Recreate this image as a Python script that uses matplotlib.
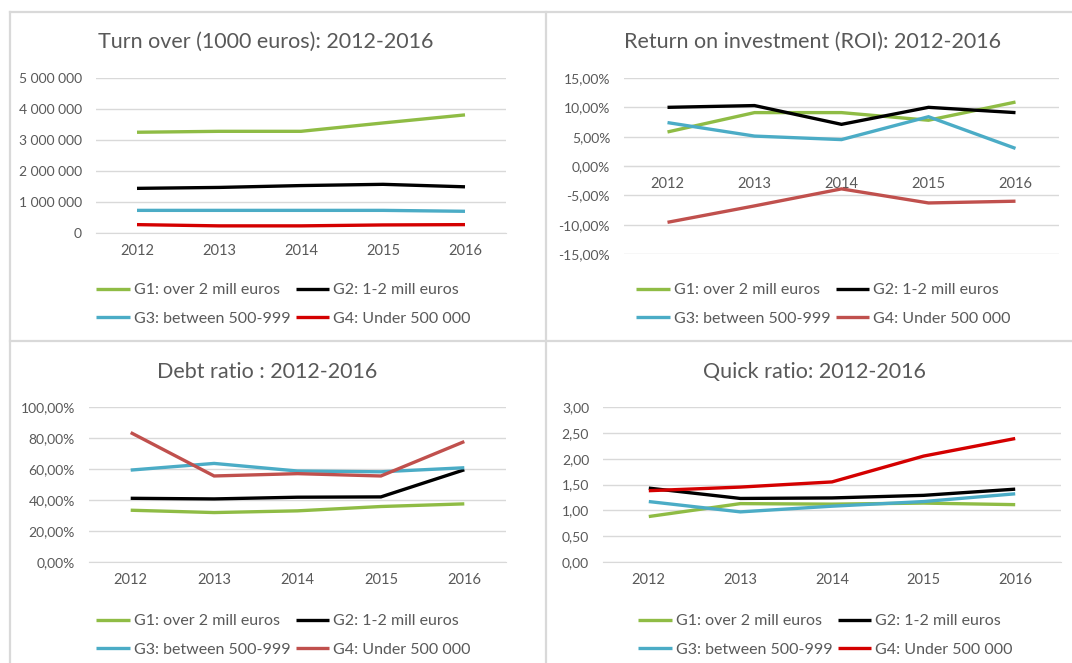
import matplotlib.pyplot as plt
from matplotlib.lines import Line2D
from matplotlib.ticker import FuncFormatter, MultipleLocator

plt.rcParams["font.family"] = ["Lato", "DejaVu Sans"]

years = ["2012", "2013", "2014", "2015", "2016"]
labels = ["G1: over 2 mill euros", "G2: 1-2 mill euros",
          "G3: between 500-999", "G4: Under 500 000"]

# turnover, 1000 euros
turnover_g1 = [3250000, 3280000, 3280000, 3550000, 3810000]
turnover_g2 = [1440000, 1470000, 1530000, 1570000, 1490000]
turnover_g3 = [730000, 730000, 730000, 730000, 700000]
turnover_g4 = [270000, 230000, 230000, 260000, 270000]

# ROI, %
roi_g1 = [5.8, 9.1, 9.1, 7.8, 10.9]
roi_g2 = [10.0, 10.3, 7.1, 10.0, 9.1]
roi_g3 = [7.4, 5.1, 4.5, 8.4, 3.0]
roi_g4 = [-9.6, -6.8, -3.9, -6.3, -6.0]

# debt ratio, %
debt_g1 = [33.4, 31.9, 33.0, 35.8, 37.5]
debt_g2 = [41.1, 40.7, 41.8, 42.0, 59.5]
debt_g3 = [59.3, 63.6, 58.7, 58.2, 60.8]
debt_g4 = [83.5, 55.5, 57.0, 55.5, 77.7]

# quick ratio
quick_g1 = [0.88, 1.13, 1.12, 1.14, 1.11]
quick_g2 = [1.43, 1.23, 1.24, 1.29, 1.41]
quick_g3 = [1.17, 0.97, 1.08, 1.17, 1.32]
quick_g4 = [1.38, 1.45, 1.55, 2.05, 2.39]

GREEN = "#8FBC45"
BLACK = "#000000"
CYAN = "#4BACC6"
RED_BRIGHT = "#D40000"
RED_SOFT = "#C0504D"
TEXT = "#595959"
GRID = "#D9D9D9"

W, H = 1072, 663
fig = plt.figure(figsize=(W / 100, H / 100), dpi=100)


def px_axes(x0, y0, x1, y1):
    # pixel box (top-left origin) -> figure axes
    return fig.add_axes([x0 / W, 1 - y1 / H, (x1 - x0) / W, (y1 - y0) / H])


def fmt_thousands(v, _):
    return f"{int(round(v)):,}".replace(",", " ")


def fmt_pct(v, _):
    return f"{v:.2f}".replace(".", ",") + "%"


def fmt_dec(v, _):
    return f"{v:.2f}".replace(".", ",")


def draw_panel(box, series, colors, ylim, step, fmt, title, title_xy,
               legend_xy, zero_axis=False):
    ax = px_axes(*box)
    xs = range(len(years))
    lines = []
    for vals, c in zip(series, colors):
        ln, = ax.plot(xs, vals, color=c, lw=2.4, solid_capstyle="butt",
                      solid_joinstyle="miter", zorder=3)
        lines.append(ln)
    ax.set_xlim(-0.5, len(years) - 0.5)
    ax.set_ylim(*ylim)
    ax.set_xticks(list(xs))
    ax.set_xticklabels(years)
    ax.yaxis.set_major_locator(MultipleLocator(step))
    ax.yaxis.set_major_formatter(FuncFormatter(fmt))
    ax.grid(axis="y", color=GRID, lw=1)
    ax.set_axisbelow(True)
    for s in ["top", "right", "left"]:
        ax.spines[s].set_visible(False)
    ax.spines["bottom"].set_color(GRID)
    if zero_axis:
        ax.spines["bottom"].set_position(("data", 0))
    ax.tick_params(length=0, colors=TEXT)
    ax.tick_params(axis="y", pad=10, labelsize=10)
    ax.tick_params(axis="x", pad=8, labelsize=10.5)
    fig.text(title_xy[0] / W, 1 - title_xy[1] / H, title, ha="center",
             va="center", fontsize=15.5, color=TEXT)
    order = [0, 2, 1, 3]
    fig.legend([lines[i] for i in order], [labels[i] for i in order],
               ncol=2, loc="upper left",
               bbox_to_anchor=(legend_xy[0] / W, 1 - legend_xy[1] / H),
               frameon=False, fontsize=11.5, labelcolor=TEXT,
               handlelength=2.1, handletextpad=0.25, columnspacing=0.35,
               labelspacing=0.9, borderpad=0, borderaxespad=0)
    return ax


draw_panel((96, 78, 506, 233),
           [turnover_g1, turnover_g2, turnover_g3, turnover_g4],
           [GREEN, BLACK, CYAN, RED_BRIGHT], (0, 5000000), 1000000,
           fmt_thousands, "Turn over (1000 euros): 2012-2016", (266, 42),
           (96, 283))

draw_panel((624, 78, 1059, 254),
           [roi_g1, roi_g2, roi_g3, roi_g4],
           [GREEN, BLACK, CYAN, RED_SOFT], (-15, 15), 5,
           fmt_pct, "Return on investment (ROI): 2012-2016", (812, 42),
           (636, 283), zero_axis=True)

draw_panel((89, 407, 506, 562),
           [debt_g1, debt_g2, debt_g3, debt_g4],
           [GREEN, BLACK, CYAN, RED_SOFT], (0, 100), 20,
           fmt_pct, "Debt ratio : 2012-2016", (267, 372),
           (96, 614))

draw_panel((603, 407, 1061, 562),
           [quick_g1, quick_g2, quick_g3, quick_g4],
           [GREEN, BLACK, CYAN, RED_BRIGHT], (0, 3), 0.5,
           fmt_dec, "Quick ratio: 2012-2016", (814, 372),
           (638, 614))

# panel borders
border = dict(color=GRID, lw=1.6, transform=fig.transFigure)
fig.add_artist(Line2D([10 / W, 10 / W], [1 - 12 / H, 0], **border))
fig.add_artist(Line2D([10 / W, 1], [1 - 12 / H, 1 - 12 / H], **border))
fig.add_artist(Line2D([546 / W, 546 / W], [1 - 12 / H, 0], **border))
fig.add_artist(Line2D([10 / W, 1], [1 - 341 / H, 1 - 341 / H], **border))

fig.savefig("out.png", dpi=100, facecolor="white")
